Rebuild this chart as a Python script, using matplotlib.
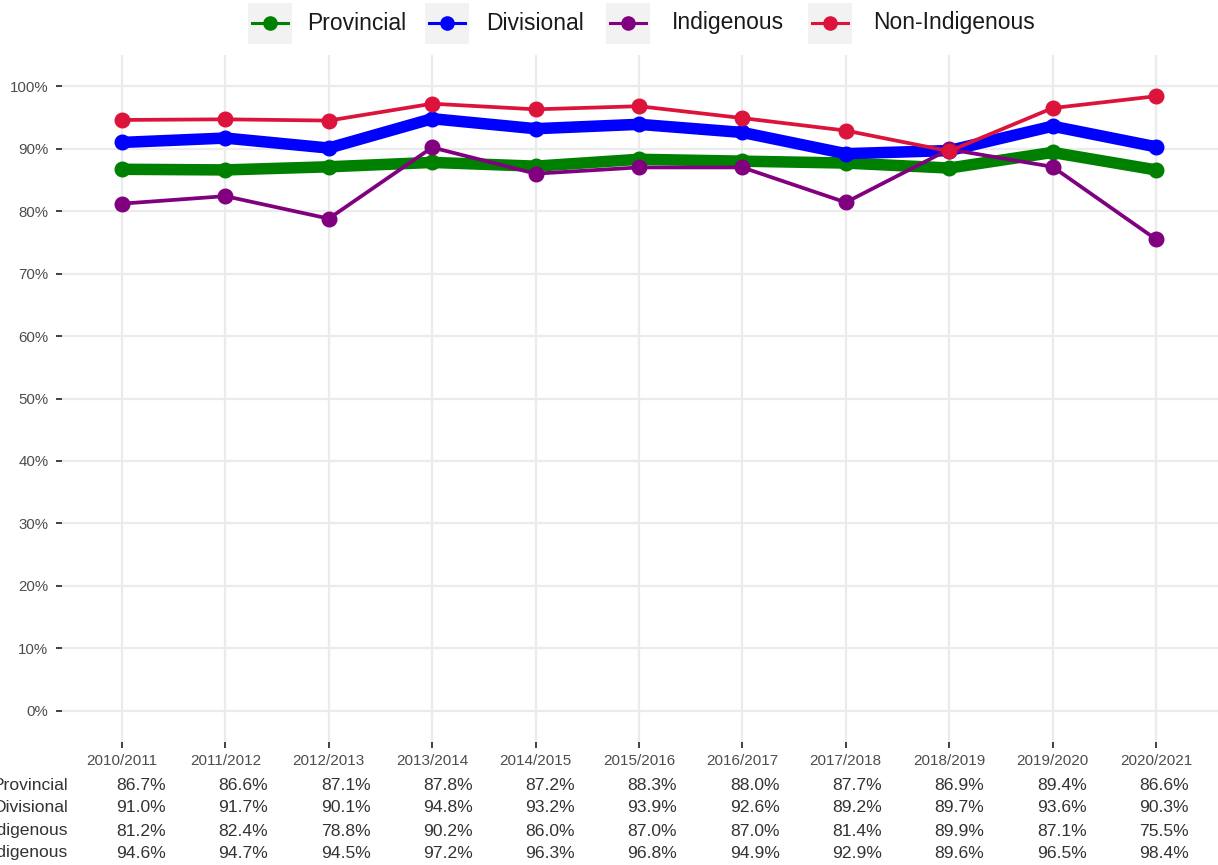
import matplotlib
matplotlib.use("Agg")
import matplotlib.pyplot as plt
from matplotlib.patches import Rectangle
from matplotlib.lines import Line2D

plt.rcParams['font.family'] = ['Liberation Sans', 'DejaVu Sans']

years = ["2010/2011", "2011/2012", "2012/2013", "2013/2014", "2014/2015", "2015/2016",
         "2016/2017", "2017/2018", "2018/2019", "2019/2020", "2020/2021"]
provincial = [86.7, 86.6, 87.1, 87.8, 87.2, 88.3, 88.0, 87.7, 86.9, 89.4, 86.6]
divisional = [91.0, 91.7, 90.1, 94.8, 93.2, 93.9, 92.6, 89.2, 89.7, 93.6, 90.3]
indigenous = [81.2, 82.4, 78.8, 90.2, 86.0, 87.0, 87.0, 81.4, 89.9, 87.1, 75.5]
non_indigenous = [94.6, 94.7, 94.5, 97.2, 96.3, 96.8, 94.9, 92.9, 89.6, 96.5, 98.4]

series_names = ["Provincial", "Divisional", "Indigenous", "Non-Indigenous"]
series_values = [provincial, divisional, indigenous, non_indigenous]
series_colors = ["#008000", "#0000FF", "#800080", "#DC143C"]
series_lw = [8.3, 8.3, 2.7, 2.7]

W, H = 1218, 865
fig = plt.figure(figsize=(W / 100, H / 100), dpi=100)
ax = fig.add_axes([62 / W, 1 - 742 / H, (W - 62) / W, (742 - 55) / H])

x = list(range(len(years)))
for name, vals, col, lw in zip(series_names, series_values, series_colors, series_lw):
    ax.plot(x, vals, color=col, lw=lw, marker='o', markersize=10.5,
            solid_capstyle='round', solid_joinstyle='round', zorder=3)

ax.set_xlim(-0.58, len(years) - 1 + 0.6)
ax.set_ylim(-5, 105)
ax.set_yticks(range(0, 101, 10))
ax.set_yticklabels([f"{v}%" for v in range(0, 101, 10)], fontsize=10.8, color="#4D4D4D")
ax.set_xticks(x)
ax.set_xticklabels(years, fontsize=11, color="#4D4D4D")
ax.tick_params(axis='both', length=4.3, width=1.3, color="#333333", pad=4)
ax.tick_params(axis='y', pad=5.5)
ax.grid(True, color="#EBEBEB", lw=1.6, zorder=0)
ax.set_axisbelow(True)
for s in ax.spines.values():
    s.set_visible(False)
ax.set_facecolor("white")

# table below (row labels are clipped at the left edge, as in the reference)
rows_y = [785, 808, 831, 853]
for name, vals, yy in zip(series_names, series_values, rows_y):
    fig.text(68 / W, 1 - yy / H, name, ha='right', va='center', fontsize=12.6, color="#333333")
    for xi, v in zip(x, vals):
        xc = 141 + xi * 102.3
        fig.text(xc / W, 1 - yy / H, f"{v:.1f}%", ha='center', va='center',
                 fontsize=12.6, color="#333333")

# legend
keys = [(248, 307), (425, 486), (606, 672), (808, 873)]
for (kx, tx), name, col in zip(keys, series_names, series_colors):
    fig.add_artist(Rectangle((kx / W, 1 - 44 / H), 44 / W, 41 / H, transform=fig.transFigure,
                             facecolor="#F2F2F2", edgecolor="none"))
    yk = 1 - 23 / H
    fig.add_artist(Line2D([(kx + 4) / W, (kx + 40) / W], [yk, yk], transform=fig.transFigure,
                          color=col, lw=2.2))
    fig.add_artist(Line2D([(kx + 22) / W], [yk], transform=fig.transFigure, color=col,
                          marker='o', markersize=9.5, lw=0))
    fig.text(tx / W, yk, name, ha='left', va='center', fontsize=16.5, color="#1A1A1A")

fig.savefig("out.png", dpi=100)
